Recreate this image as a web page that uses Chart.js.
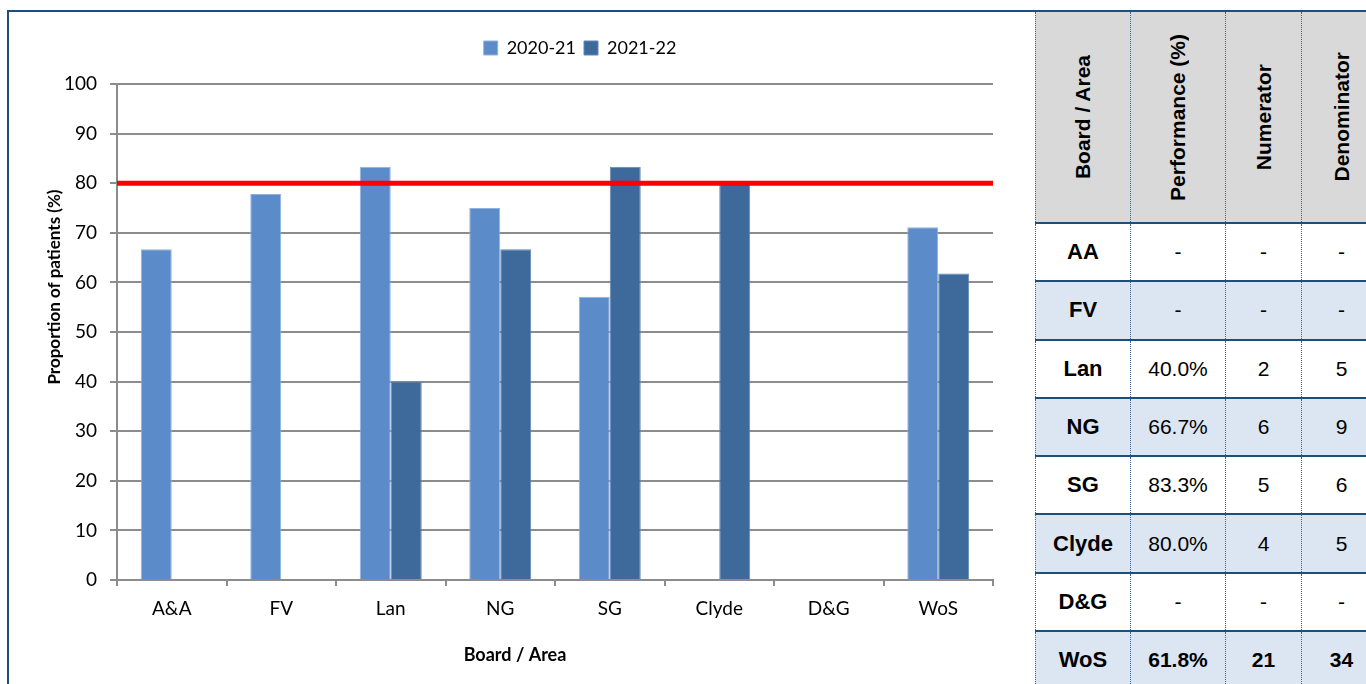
<!DOCTYPE html>
<html>
<head>
<meta charset="utf-8">
<script src="https://cdn.jsdelivr.net/npm/chart.js@4.4.0/dist/chart.umd.min.js"></script>
<style>
  html, body { margin: 0; padding: 0; background: #fff; width: 1366px; height: 684px; overflow: hidden; }
  #frame { position: absolute; left: 7px; top: 10px; width: 1400px; height: 700px;
           border-top: 2px solid #1f4e79; border-left: 2px solid #1f4e79; }
  #chartBox { position: absolute; left: 9px; top: 12px; width: 1142px; height: 672px; }
  #tbl { position: absolute; left: 1035px; top: 12px; z-index: 2;
         font-family: "Liberation Sans", Arial, sans-serif; color: #000; }
  .row { display: flex; box-sizing: border-box; height: 58.3px; border-bottom: 2px solid #1f4e79; background: #fff; }
  .row.alt { background: #dce6f2; }
  .row.head { height: 212px; background: #d9d9d9; }
  .cell { box-sizing: border-box; border-left: 1px dotted #3d6199; display: flex;
          align-items: center; justify-content: center; font-size: 21px; }
  .cell.lbl { font-weight: bold; font-size: 22px; }
  .row.total .cell { font-weight: bold; }
  .head .cell span { writing-mode: vertical-rl; transform: rotate(180deg); font-weight: bold; font-size: 21px; white-space: nowrap; }
</style>
</head>
<body>
<div id="frame"></div>
<div id="chartBox"><canvas id="chart"></canvas></div>
<div id="tbl"></div>

<script>
// chart data
const boards = ['A&A', 'FV', 'Lan', 'NG', 'SG', 'Clyde', 'D&G', 'WoS'];
const seriesNames = ['2020-21', '2021-22'];
const values2021 = [66.7, 77.8, 83.3, 75.0, 57.1, null, null, 71.1];
const values2122 = [null, null, 40.0, 66.7, 83.3, 80.0, null, 61.8];
const target = 80;

// table data (performance column is the 2021-22 series)
const tableHeads = ['Board / Area', 'Performance (%)', 'Numerator', 'Denominator'];
const tableBoards = ['AA', 'FV', 'Lan', 'NG', 'SG', 'Clyde', 'D&G', 'WoS'];
const numerators = [null, null, 2, 6, 5, 4, null, 21];
const denominators = [null, null, 5, 9, 6, 5, null, 34];
const colWidths = [95, 95, 76, 80];

// ===== table =====
const tbl = document.getElementById('tbl');
const head = document.createElement('div');
head.className = 'row head';
tableHeads.forEach((h, i) => {
  const c = document.createElement('div');
  c.className = 'cell';
  c.style.width = colWidths[i] + 'px';
  c.innerHTML = `<span>${h}</span>`;
  head.appendChild(c);
});
tbl.appendChild(head);

const dash = v => (v === null ? '-' : v);
tableBoards.forEach((b, r) => {
  const row = document.createElement('div');
  row.className = 'row' + (r % 2 ? ' alt' : '') + (r === tableBoards.length - 1 ? ' total' : '');
  const perf = values2122[r] === null ? '-' : values2122[r].toFixed(1) + '%';
  [b, perf, dash(numerators[r]), dash(denominators[r])].forEach((v, i) => {
    const c = document.createElement('div');
    c.className = 'cell' + (i === 0 ? ' lbl' : '');
    c.style.width = colWidths[i] + 'px';
    c.textContent = v;
    row.appendChild(c);
  });
  tbl.appendChild(row);
});

// ===== chart =====
const gridGrey = '#8c8c8c';
const tickFont = { family: 'Lato', size: 19 };

// red target line across the plot
const targetLine = {
  id: 'targetLine',
  afterDatasetsDraw(chart) {
    const { ctx, chartArea, scales } = chart;
    const y = scales.y.getPixelForValue(target);
    ctx.save();
    ctx.strokeStyle = '#ff0000';
    ctx.lineWidth = 5;
    ctx.beginPath();
    ctx.moveTo(chartArea.left, y);
    ctx.lineTo(chartArea.right, y);
    ctx.stroke();
    ctx.restore();
  }
};

// axis titles, set a bit off the plot centre like the Excel original
const axisTitles = {
  id: 'axisTitles',
  afterDraw(chart) {
    const { ctx, chartArea } = chart;
    ctx.save();
    ctx.fillStyle = '#000';
    ctx.textAlign = 'center';
    ctx.textBaseline = 'middle';
    ctx.font = 'bold 18px Lato';
    ctx.fillText('Board / Area', (chartArea.left + chartArea.right) / 2 - 40, chartArea.bottom + 75);
    ctx.font = 'bold 17px Lato';
    ctx.translate(chartArea.left - 62, (chartArea.top + chartArea.bottom) / 2 - 45);
    ctx.rotate(-Math.PI / 2);
    ctx.fillText('Proportion of patients (%)', 0, 0);
    ctx.restore();
  }
};

new Chart(document.getElementById('chart'), {
  type: 'bar',
  data: {
    labels: boards,
    datasets: [
      { label: seriesNames[0], data: values2021, backgroundColor: '#5b8bc8', borderColor: '#8fb2e0', borderWidth: 1 },
      { label: seriesNames[1], data: values2122, backgroundColor: '#3e6a9b', borderColor: '#5f87b8', borderWidth: 1 }
    ]
  },
  options: {
    responsive: true,
    maintainAspectRatio: false,
    animation: false,
    datasets: { bar: { categoryPercentage: 0.566, barPercentage: 1 } },
    layout: { padding: { top: 19, left: 0, right: 0, bottom: 0 } },
    plugins: {
      tooltip: { enabled: false },
      legend: {
        position: 'top',
        labels: { boxWidth: 14, boxHeight: 14, padding: 8, color: '#000', font: { family: 'Lato', size: 18 } }
      },
      // empty spacer between legend and plot
      subtitle: { display: true, text: '', position: 'top', weight: 500, font: { size: 10 }, padding: { top: 0, bottom: 5 } }
    },
    scales: {
      x: {
        grid: { offset: true, drawOnChartArea: false, tickLength: 6, color: gridGrey, lineWidth: 2 },
        border: { color: gridGrey, width: 2 },
        ticks: { color: '#000', font: tickFont, padding: 11, maxRotation: 0, autoSkip: false },
        afterFit(s) { s.height = 104; }
      },
      y: {
        min: 0,
        max: 100,
        ticks: { stepSize: 10, color: '#000', font: tickFont, padding: 13 },
        grid: { color: gridGrey, lineWidth: 2, tickLength: 7 },
        border: { color: gridGrey, width: 2 },
        // fixed plot box: room for the table on the right, legend on top
        afterFit(s) { s.width = 108; s.paddingTop = 72; s.paddingRight = 158; }
      }
    }
  },
  plugins: [targetLine, axisTitles]
});
</script>
</body>
</html>
